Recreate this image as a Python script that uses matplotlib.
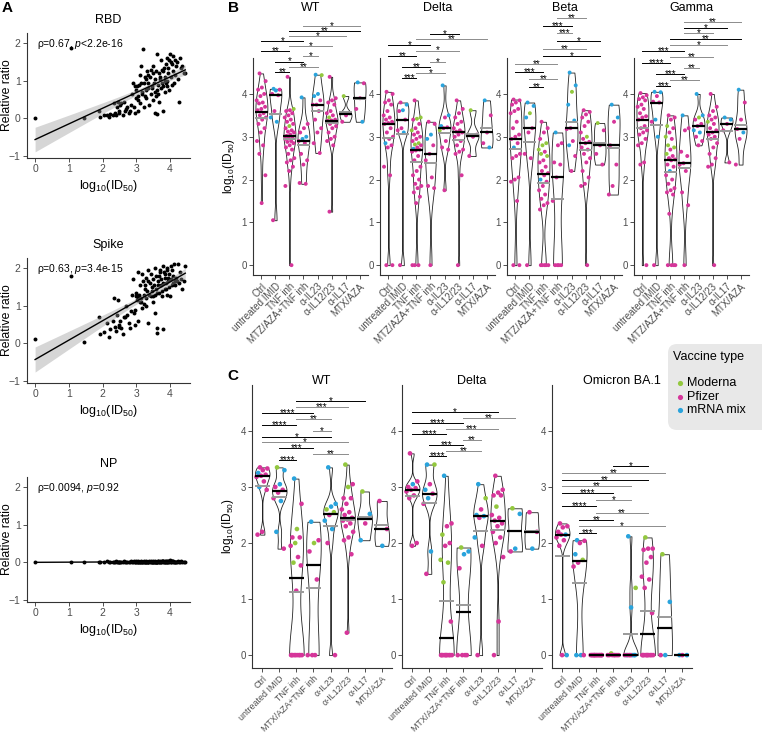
import matplotlib.pyplot as plt
import numpy as np
from matplotlib.patches import FancyBboxPatch

plt.rcParams['font.family'] = ['Liberation Sans', 'DejaVu Sans']
plt.rcParams['mathtext.fontset'] = 'custom'
plt.rcParams['mathtext.rm'] = 'Liberation Sans'
plt.rcParams['mathtext.it'] = 'Liberation Sans:italic'

# ---------------- data: panel A (same subjects in all three) ----------------
id50 = [0.00, 1.05, 1.45, 1.88, 1.92, 2.05, 2.12, 2.18, 2.22, 2.30,
        2.35, 2.38, 2.40, 2.42, 2.45, 2.48, 2.52, 2.55, 2.60, 2.62,
        2.68, 2.72, 2.78, 2.82, 2.85, 2.88, 2.90, 2.93, 2.95, 2.98,
        3.00, 3.02, 3.04, 3.06, 3.08, 3.10, 3.12, 3.14, 3.16, 3.18,
        3.20, 3.22, 3.24, 3.26, 3.28, 3.30, 3.32, 3.34, 3.36, 3.38,
        3.40, 3.42, 3.44, 3.46, 3.48, 3.50, 3.52, 3.54, 3.56, 3.58,
        3.60, 3.62, 3.64, 3.66, 3.68, 3.70, 3.72, 3.74, 3.76, 3.78,
        3.80, 3.82, 3.84, 3.86, 3.88, 3.90, 3.92, 3.94, 3.96, 3.98,
        4.00, 4.02, 4.04, 4.06, 4.08, 4.10, 4.12, 4.15, 4.18, 4.22,
        4.25, 4.28, 4.32, 4.36, 4.40, 4.45, 3.05, 3.55, 3.75, 2.95,
        3.15, 3.35, 3.65, 3.85, 4.05, 3.45, 3.25, 3.95, 2.65, 3.70,
        2.50, 3.58, 3.62, 3.88, 4.14, 3.28, 3.48, 3.78, 3.92, 4.20]
rbd_ratio = [0.00, 1.88, 0.02, 0.20, 0.05, 0.08, 0.10, 0.05, 0.12, 0.08,
             0.42, 0.15, 0.10, 0.30, 0.45, 0.20, 0.35, 0.40, 0.08, 0.45,
             0.25, 0.30, 0.15, 0.20, 0.35, 0.65, 0.95, 0.30, 0.15, 0.55,
             0.75, 0.85, 0.20, 0.60, 0.90, 1.15, 0.40, 1.40, 0.65, 0.70,
             1.85, 0.95, 0.30, 1.10, 0.75, 0.55, 1.25, 0.80, 0.95, 0.35,
             1.10, 0.65, 1.30, 0.85, 0.50, 1.40, 0.95, 0.70, 1.05, 0.60,
             1.70, 0.12, 0.90, 1.20, 0.45, 1.05, 0.80, 1.55, 0.95, 1.25,
             0.20, 1.35, 1.10, 0.70, 1.45, 0.85, 1.00, 1.20, 0.75, 1.55,
             1.70, 1.10, 1.50, 0.90, 1.65, 1.25, 0.95, 1.55, 1.40, 1.05,
             0.45, 1.60, 1.35, 1.40, 1.20, 1.20, 0.50, 0.15, 1.30, 0.85,
             0.95, 1.15, 0.65, 1.00, 1.45, 0.80, 0.60, 1.35, 0.20, 1.10,
             0.15, 1.25, 0.75, 0.95, 1.15, 1.05, 1.20, 0.85, 1.60, 1.50]
spike_ratio = [0.12, 1.78, 0.05, 0.70, 0.25, 0.30, 0.55, 0.18, 0.38, 0.60,
               1.20, 0.45, 0.32, 0.75, 1.15, 0.50, 0.60, 0.40, 0.25, 0.70,
               1.00, 0.75, 0.55, 0.40, 0.85, 1.30, 1.70, 0.80, 0.50, 1.25,
               1.35, 1.15, 0.60, 1.90, 1.30, 1.55, 1.10, 1.20, 0.95, 1.85,
               1.65, 1.30, 1.05, 1.45, 1.75, 1.20, 1.40, 1.95, 0.55, 1.30,
               1.60, 1.25, 1.85, 1.50, 1.10, 1.70, 1.55, 1.30, 2.00, 1.45,
               0.28, 0.40, 1.65, 1.80, 1.35, 1.95, 1.55, 1.70, 1.25, 2.05,
               0.38, 1.90, 1.45, 1.75, 1.60, 2.00, 1.30, 1.65, 1.50, 1.85,
               1.25, 1.70, 2.05, 1.55, 1.80, 1.60, 2.10, 1.65, 1.75, 2.10,
               1.60, 1.90, 1.70, 1.45, 1.65, 2.05, 1.20, 0.80, 1.40, 0.90,
               1.10, 1.65, 1.55, 1.85, 1.95, 1.40, 1.55, 1.75, 0.70, 1.90,
               0.45, 1.80, 1.35, 1.45, 1.55, 1.00, 1.25, 1.60, 1.95, 1.65]
np_ratio = [0.01, 0.00, 0.01, 0.00, 0.01, 0.02, 0.03, 0.01, 0.02, 0.00,
            0.02, 0.01, 0.03, 0.00, 0.02, 0.01, 0.00, 0.02, 0.01, 0.03,
            0.01, 0.02, 0.00, 0.01, 0.03, 0.02, 0.01, 0.04, 0.00, 0.02,
            0.03, 0.01, 0.02, 0.05, 0.01, 0.00, 0.02, 0.03, 0.01, 0.02,
            0.00, 0.02, 0.04, 0.01, 0.03, 0.02, 0.00, 0.01, 0.02, 0.03,
            0.01, 0.03, 0.02, 0.00, 0.04, 0.01, 0.02, 0.03, 0.01, 0.00,
            0.02, 0.01, 0.03, 0.02, 0.00, 0.04, 0.01, 0.02, 0.03, 0.01,
            0.03, 0.02, 0.01, 0.04, 0.02, 0.00, 0.03, 0.01, 0.02, 0.05,
            0.06, 0.02, 0.01, 0.03, 0.02, 0.04, 0.01, 0.02, 0.00, 0.03,
            0.01, 0.02, 0.03, 0.01, 0.02, 0.00, 0.02, 0.01, 0.03, 0.02,
            0.02, 0.01, 0.03, 0.02, 0.04, 0.01, 0.02, 0.03, 0.01, 0.02,
            0.00, 0.02, 0.01, 0.03, 0.02, 0.01, 0.02, 0.03, 0.02, 0.01]
a_titles = ['RBD', 'Spike', 'NP']
a_stats = ['ρ=0.67, $p$<2.2e-16', 'ρ=0.63, $p$=3.4e-15', 'ρ=0.0094, $p$=0.92']

# ---------------- data: panels B and C (log10 ID50 per group) ----------------
# vaccine codes: G = Moderna, P = Pfizer, B = mRNA mix (missing tail = Pfizer)
labels_b = ['Ctrl', 'untreated IMID', 'TNF inh', 'MTZ/AZA+TNF inh',
            'α-IL23', 'α-IL12/23', 'α-IL17', 'MTX/AZA']
labels_c = ['Ctrl', 'untreated IMID', 'TNF inh', 'MTX/AZA+TNF inh',
            'α-IL23', 'α-IL12/23', 'α-IL17', 'MTX/AZA']

b_wt = [[4.48, 4.30, 4.15, 4.10, 4.00, 3.95, 3.85, 3.80, 3.78, 3.70, 3.65, 3.62,
         3.55, 3.50, 3.45, 3.40, 3.30, 3.20, 3.10, 2.90, 2.80, 2.60, 2.10, 1.45],
        [4.12, 4.10, 4.08, 4.00, 3.97, 3.60, 3.45, 3.35, 1.05],
        [4.40, 3.65, 3.62, 3.60, 3.55, 3.50, 3.45, 3.40, 3.35, 3.30, 3.25, 3.20,
         3.15, 3.12, 3.10, 3.05, 3.02, 3.00, 2.98, 2.95, 2.90, 2.88, 2.85, 2.80,
         2.75, 2.70, 2.60, 2.50, 2.45, 2.40, 2.30, 2.20, 1.85, 0.00],
        [3.92, 3.30, 3.20, 3.10, 3.00, 2.95, 2.90, 2.85, 2.60, 2.45, 2.35, 1.92, 1.90],
        [4.45, 4.44, 4.00, 3.95, 3.85, 3.75, 3.75, 3.60, 3.40, 3.20, 3.10, 2.85, 2.62],
        [4.40, 3.90, 3.85, 3.80, 3.75, 3.60, 3.55, 3.50, 3.45, 3.40, 3.38, 3.37,
         3.35, 3.30, 3.25, 3.20, 3.10, 3.00, 2.95, 2.90, 2.80, 1.25],
        [3.95, 3.55, 3.50, 3.35],
        [4.27, 4.25, 3.90, 3.65, 3.35]]
b_wt_vax = ['', 'BPBPPPBBP', 'PGPPPPPPPPG', 'BPPPBBP', 'BGBB', 'PPPPPPPPG', 'G', 'BPPPB']

b_delta = [[4.05, 4.00, 3.85, 3.80, 3.75, 3.60, 3.50, 3.45, 3.40, 3.35, 3.32, 3.30,
            3.20, 3.10, 3.00, 2.95, 2.85, 2.80, 2.75, 2.30, 2.10, 0.00, 0.00],
           [3.80, 3.75, 3.62, 3.60, 3.40, 3.20, 3.15, 3.10, 0.00],
           [3.85, 3.45, 3.42, 3.40, 3.30, 3.20, 3.15, 3.10, 3.05, 3.00, 2.95, 2.90,
            2.85, 2.82, 2.80, 2.75, 2.72, 2.70, 2.68, 2.65, 2.55, 2.45, 2.30, 2.20,
            2.10, 2.00, 1.90, 1.85, 1.80, 1.70, 1.60, 1.45, 0.00, 0.00, 0.00],
           [3.35, 3.30, 3.05, 2.95, 2.80, 2.60, 2.45, 2.05, 1.85, 1.80, 0.00],
           [4.20, 3.50, 3.45, 3.25, 3.22, 3.20, 3.15, 2.90, 2.75, 2.70, 1.75],
           [3.85, 3.65, 3.55, 3.45, 3.35, 3.30, 3.20, 3.15, 3.12, 3.10, 3.05, 3.00,
            2.90, 2.80, 2.70, 2.65, 2.60, 2.10, 0.00],
           [3.62, 3.05, 3.00, 2.55],
           [3.85, 3.50, 3.10, 2.85, 2.75]]
b_delta_vax = ['PPPPPPPPPPPPPPPPB', 'PBBPPPPBP', 'PGGPPPGPPPPPGGPPB', 'PPBB',
               'BBPBPPG', '', 'G', 'BPPPB']

b_beta = [[3.87, 3.85, 3.80, 3.75, 3.65, 3.60, 3.55, 3.35, 3.20, 3.05, 3.00, 2.95,
           2.85, 2.75, 2.60, 2.55, 2.50, 2.05, 2.00, 1.95, 1.50, 0.00, 0.00],
          [3.80, 3.72, 3.55, 3.45, 3.20, 3.10, 2.60, 2.50, 0.00],
          [3.35, 3.20, 3.10, 2.95, 2.85, 2.80, 2.70, 2.65, 2.60, 2.55, 2.45, 2.40,
           2.30, 2.20, 2.15, 2.10, 2.00, 1.95, 1.85, 1.75, 1.65, 1.55, 1.45, 1.40,
           1.30, 0.00, 0.00, 0.00, 0.00, 0.00],
          [3.10, 2.85, 2.80, 2.40, 2.35, 2.05, 1.50, 0.00, 0.00, 0.00, 0.00],
          [4.50, 4.20, 4.05, 3.75, 3.38, 3.20, 3.18, 2.90, 2.80, 2.55, 2.20],
          [3.62, 3.58, 3.52, 3.45, 3.35, 3.25, 3.10, 3.00, 2.95, 2.88, 2.85, 2.75,
           2.70, 2.60, 2.50, 2.40, 2.20, 2.05, 1.90, 1.85, 0.00],
          [3.32, 3.15, 2.80, 2.60, 2.35],
          [3.75, 3.45, 3.35, 2.80, 2.35, 1.85, 1.65]]
b_beta_vax = ['PPPPPPPPPPPPPB', 'BBGB', 'PPPPGGGPGGPPPPPPB', 'B',
              'BBGBBPPPB', 'PPPPPPPG', 'G', 'BB']

b_gamma = [[4.02, 3.97, 3.92, 3.88, 3.85, 3.75, 3.70, 3.65, 3.55, 3.48, 3.45, 3.40,
            3.25, 3.20, 3.15, 3.10, 3.05, 2.95, 2.85, 2.80, 2.40, 2.35, 0.00],
           [4.05, 4.04, 3.95, 3.82, 3.80, 3.40, 3.35, 3.00, 0.00],
           [3.50, 3.45, 3.40, 3.25, 3.20, 3.10, 3.00, 2.95, 2.80, 2.75, 2.70, 2.60,
            2.55, 2.50, 2.47, 2.45, 2.35, 2.30, 2.20, 2.10, 2.00, 1.90, 1.80, 1.75,
            1.70, 1.65, 1.20, 0.00, 0.00, 0.00, 0.00],
           [3.50, 3.20, 3.15, 2.65, 2.55, 2.38, 2.35, 2.20, 1.70, 1.40, 0.00],
           [4.00, 3.50, 3.45, 3.40, 3.30, 3.25, 3.15, 3.10, 3.00, 2.90, 2.80],
           [4.00, 3.70, 3.60, 3.50, 3.45, 3.40, 3.35, 3.30, 3.20, 3.15, 3.10, 3.05,
            3.00, 2.95, 2.85, 2.75, 2.60, 2.50, 2.35, 2.30, 0.00],
           [3.45, 3.40, 3.30, 3.15, 2.40],
           [4.10, 3.80, 3.40, 3.18, 3.10, 2.95, 2.35]]
b_gamma_vax = ['', 'BBPPPBPB', 'PPPGPPGPGGPGPPPPPPB', 'B', 'BBGPPPBB', 'PPPPPPG', 'BB', 'BPPPB']

c_wt = [[3.35, 3.33, 3.30, 3.25, 3.22, 3.20, 3.18, 3.10, 3.00, 2.95, 2.20, 2.15],
        [3.35, 3.30, 3.05, 3.00, 2.95, 2.90, 2.80, 2.75, 2.20, 1.90],
        [3.15, 2.70, 2.25, 2.10, 2.10, 2.00, 1.95, 1.75, 1.65, 1.60, 1.15,
         0.00, 0.00, 0.00, 0.00, 0.00, 0.00, 0.00, 0.00, 0.00],
        [2.38, 2.05, 2.00, 1.85, 1.35, 0.00, 0.00, 0.00],
        [3.35, 2.70, 2.65, 2.60, 2.55, 2.50, 2.40, 2.25, 2.00, 0.00],
        [3.40, 3.05, 3.00, 2.80, 2.80, 2.70, 2.60, 2.55, 2.50, 2.45, 2.42, 2.40,
         2.35, 2.30, 2.20, 2.10, 2.05, 1.80, 0.40],
        [2.92, 2.52, 2.35, 2.05],
        [2.75, 2.25, 1.95]]
c_wt_vax = ['PPPBPPPPB', 'GBBPPPPBBP', 'BPGPPGPPG', 'BPG', 'BBBGGPBB', 'GPG', 'GBPB', 'PPB']

c_delta = [[3.60, 3.10, 3.05, 3.00, 2.98, 2.95, 2.92, 2.85, 2.80, 2.00, 1.95],
           [3.40, 3.40, 3.05, 2.95, 2.88, 2.80, 2.70, 1.85, 1.45],
           [3.20, 2.35, 2.30, 2.15, 2.00, 1.95, 1.70, 1.65, 1.30, 0.60,
            0.00, 0.00, 0.00, 0.00, 0.00, 0.00, 0.00, 0.00, 0.00, 0.00],
           [1.92, 1.85, 1.80, 1.55, 0.00, 0.00, 0.00, 0.00],
           [3.05, 2.80, 2.60, 2.50, 2.48, 2.45, 2.10, 1.95, 0.00],
           [3.20, 2.95, 2.90, 2.85, 2.85, 2.65, 2.50, 2.45, 2.40, 2.35, 2.30, 2.20,
            2.10, 2.00, 1.75, 0.60, 0.00],
           [2.62, 2.52, 1.90, 1.85],
           [2.55, 2.20, 1.90]]
c_delta_vax = ['PPB', 'BGPBPBPB', 'BPPGPPGGG', 'GBB', 'BGPBBPB', 'PPPPPG', 'GBB', 'PPB']

c_omicron = [[2.35, 2.30, 2.28, 2.20, 2.15, 2.15, 2.10, 2.05, 1.95, 0.00, 0.00],
             [2.05, 2.04, 2.00, 1.80, 1.70, 1.65, 1.58, 0.00, 0.00, 0.00],
             [0.00, 0.00, 0.00, 0.00, 0.00, 0.00, 0.00, 0.00, 0.00, 0.00,
              0.00, 0.00, 0.00, 0.00, 0.00],
             [0.03, 0.00, 0.00, 0.00, 0.00, 0.00, 0.00, 0.00],
             [2.12, 1.20, 0.85, 0.00, 0.00, 0.00, 0.00, 0.00, 0.00, 0.00, 0.00],
             [2.10, 1.90, 1.90, 1.88, 1.75, 1.65, 1.40, 1.35, 1.20, 0.75,
              0.00, 0.00, 0.00, 0.00, 0.00, 0.00, 0.00, 0.00, 0.00, 0.00],
             [1.80, 0.95, 0.00, 0.00],
             [0.00, 0.00, 0.00]]
c_omicron_vax = ['PPPPBPPPPB', 'BPPBGPPBB', '', 'G', 'BGBBBPPBPB', 'G', 'GBB', 'BB']

# significance comparisons (group i, group j, stars), listed bottom to top
b_wt_sig = [(1, 2, '**'), (2, 4, '**'), (1, 3, '*'), (3, 4, '*'), (0, 2, '**'),
            (2, 5, '*'), (0, 3, '*'), (2, 6, '*'), (2, 7, '**'), (3, 7, '*')]
b_delta_sig = [(1, 2, '***'), (2, 4, '*'), (1, 3, '**'), (3, 4, '*'), (0, 2, '**'),
               (2, 5, '*'), (0, 3, '*'), (2, 7, '**'), (3, 5, '*')]
b_beta_sig = [(1, 2, '**'), (1, 3, '**'), (0, 2, '***'), (0, 3, '**'), (2, 6, '*'),
              (2, 5, '**'), (3, 6, '*'), (3, 4, '***'), (2, 4, '***'), (3, 5, '**')]
b_gamma_sig = [(1, 2, '***'), (2, 4, '**'), (1, 3, '***'), (3, 4, '**'), (0, 2, '****'),
               (2, 5, '**'), (0, 3, '***'), (2, 6, '*'), (2, 7, '**'), (3, 5, '*'),
               (3, 6, '*'), (3, 7, '**')]
c_wt_sig = [(1, 2, '****'), (3, 5, '**'), (1, 3, '***'), (0, 5, '*'), (0, 4, '*'),
            (3, 4, '*'), (0, 2, '****'), (2, 4, '**'), (0, 3, '****'), (2, 5, '***'),
            (2, 6, '*')]
c_delta_sig = [(1, 2, '****'), (2, 4, '**'), (1, 3, '***'), (3, 4, '**'), (0, 2, '****'),
               (2, 5, '***'), (0, 3, '****'), (3, 6, '**'), (0, 5, '*')]
c_omicron_sig = [(1, 2, '***'), (1, 6, '*'), (1, 3, '**'), (2, 5, '**'), (0, 2, '****'),
                 (2, 4, '*'), (0, 3, '****'), (0, 4, '**'), (0, 5, '**'), (0, 6, '**'),
                 (3, 5, '*')]

vax_names = ['Moderna', 'Pfizer', 'mRNA mix']
vax_colors = {'G': '#93c83e', 'P': '#d6359a', 'B': '#29a3dc'}

# ---------------- drawing ----------------
W, H = 762, 733
fig = plt.figure(figsize=(W / 100, H / 100), dpi=100)
TICK = '#4d4d4d'


def px_box(left, top, w, h):
    return [left / W, 1 - (top + h) / H, w / W, h / H]


def style_axes(ax):
    for s in ['top', 'right']:
        ax.spines[s].set_visible(False)
    for s in ['left', 'bottom']:
        ax.spines[s].set_color('#333333')
        ax.spines[s].set_linewidth(0.8)
    ax.tick_params(length=3, width=0.6, color='#333333', labelcolor=TICK, labelsize=7, pad=1.5)


# Panel A
a_tops = [33, 258, 477]
for ax_top, yv, title, stat in zip(a_tops, [rbd_ratio, spike_ratio, np_ratio], a_titles, a_stats):
    ax = fig.add_axes(px_box(27, ax_top, 163, 125))
    x = np.array(id50)
    y = np.array(yv)
    slope, icpt = np.polyfit(x, y, 1)
    xs = np.linspace(x.min(), x.max(), 100)
    fit = icpt + slope * xs
    n = len(x)
    s = np.sqrt(((y - (icpt + slope * x)) ** 2).sum() / (n - 2))
    se = s * np.sqrt(1 / n + (xs - x.mean()) ** 2 / ((x - x.mean()) ** 2).sum())
    ax.scatter(x, y, s=8, color='black', lw=0, zorder=2)
    ax.fill_between(xs, fit - 1.98 * se, fit + 1.98 * se, color='#999999', alpha=0.4, lw=0, zorder=3)
    ax.plot(xs, fit, color='black', lw=1, zorder=4)
    ax.set_xlim(-0.24, 4.59)
    ax.set_ylim(-1.05, 2.27)
    ax.set_xticks(range(5))
    ax.set_yticks([-1, 0, 1, 2])
    style_axes(ax)
    ax.tick_params(labelsize=7.5)
    ax.set_ylabel('Relative ratio', fontsize=8.8)
    # y label anchor is the right edge of the rotated text
    ax.yaxis.set_label_coords(-13.5 / 163, 0.5)
    ax.set_xlabel('log$_{10}$(ID$_{50}$)', fontsize=9, labelpad=3)
    ax.text(0.5, 1 + 13 / 125, title, transform=ax.transAxes, ha='center', va='center', fontsize=9)
    ax.text(0.06, 0.97, stat, transform=ax.transAxes, ha='left', va='top', fontsize=7.5)


def nrd0(kde):
    d = np.ravel(kde.dataset)
    sd = d.std(ddof=1)
    iqr = np.subtract(*np.percentile(d, [75, 25]))
    lo = min(sd, iqr / 1.34) if iqr > 0 else sd
    return 0.9 * lo * len(d) ** -0.2 / sd


def violin_panel(ax, groups, vax, sig, base, step, labels, pt_size, xlab_size):
    for i, (vals, codes) in enumerate(zip(groups, vax)):
        v = np.array(vals)
        codes = codes.ljust(len(v), 'P')
        if np.ptp(v) > 0.1:
            parts = ax.violinplot([v], positions=[i], widths=0.85, showextrema=False, bw_method=nrd0)
            for body in parts['bodies']:
                body.set_facecolor('white')
                body.set_edgecolor('#222222')
                body.set_linewidth(0.6)
                body.set_alpha(1)
                body.set_zorder(1)
        k = np.arange(len(v))
        xj = i + ((k * 0.618034 + 0.31) % 1 - 0.5) * 0.7
        ax.scatter(xj, v, s=pt_size, c=[vax_colors[c] for c in codes[:len(v)]], lw=0, zorder=2)
        ax.plot([i - 0.45, i + 0.45], [v.mean()] * 2, color='#9a9a9a', lw=1.4, zorder=3,
                solid_capstyle='butt')
        ax.plot([i - 0.45, i + 0.45], [np.median(v)] * 2, color='black', lw=1.6, zorder=4,
                solid_capstyle='butt')
    for k, (i, j, stars) in enumerate(sig):
        y = base + k * step
        col = 'black' if k % 2 == 0 else '#8c8c8c'
        ax.plot([i, j], [y, y], color=col, lw=0.7, clip_on=False, zorder=5)
        ax.annotate(stars, xy=((i + j) / 2, y), xytext=(0, -2.2), textcoords='offset points',
                    ha='center', va='baseline', fontsize=7, annotation_clip=False)
    ax.set_xlim(-0.6, 7.6)
    ax.set_xticks(range(8))
    ax.set_xticklabels(labels, rotation=45, ha='right', rotation_mode='anchor')
    ax.set_yticks(range(5))
    style_axes(ax)
    ax.tick_params(axis='x', labelsize=xlab_size)


# Panel B
b_sets = [('WT', b_wt, b_wt_vax, b_wt_sig, 4.52, 0.119),
          ('Delta', b_delta, b_delta_vax, b_delta_sig, 4.37, 0.129),
          ('Beta', b_beta, b_beta_vax, b_beta_sig, 4.16, 0.179),
          ('Gamma', b_gamma, b_gamma_vax, b_gamma_sig, 4.19, 0.136)]
for n_ax, (title, groups, vax, sig, base, step) in enumerate(b_sets):
    ax = fig.add_axes(px_box(253 + 127 * n_ax, 58, 115, 217))
    ax.set_ylim(-0.23, 4.84)
    violin_panel(ax, groups, vax, sig, base, step, labels_b, 8, 7)
    ax.text(0.5, 1 + 50 / 217, title, transform=ax.transAxes, ha='center', va='center', fontsize=9)
    if n_ax == 0:
        ax.set_ylabel('log$_{10}$(ID$_{50}$)', fontsize=8.5, labelpad=3)

# Panel C
c_sets = [('WT', c_wt, c_wt_vax, c_wt_sig, 3.48, 0.105),
          ('Delta', c_delta, c_delta_vax, c_delta_sig, 3.55, 0.0975),
          ('Omicron BA.1', c_omicron, c_omicron_vax, c_omicron_sig, 2.18, 0.119)]
for n_ax, (title, groups, vax, sig, base, step) in enumerate(c_sets):
    ax = fig.add_axes(px_box(252 + 150 * n_ax, 385, 140, 283))
    ax.set_ylim(-0.23, 4.82)
    violin_panel(ax, groups, vax, sig, base, step, labels_c, 11, 6.4)
    ax.text(0.5, 1 + 4 / 283, title, transform=ax.transAxes, ha='center', va='center', fontsize=9)
    if n_ax == 0:
        ax.set_ylabel('log$_{10}$(ID$_{50}$)', fontsize=8.5, labelpad=3)

# Legend
lax = fig.add_axes(px_box(667, 342, 95, 90))
lax.set_xlim(0, 95)
lax.set_ylim(90, 0)
lax.axis('off')
lax.add_patch(FancyBboxPatch((1, 2), 110, 86, boxstyle='round,pad=0,rounding_size=9',
                             facecolor='#e8e8e8', edgecolor='none', clip_on=False))
lax.text(6, 15, 'Vaccine type', fontsize=9, ha='left', va='center')
for k, (name, code) in enumerate(zip(vax_names, ['G', 'P', 'B'])):
    yk = 41 + 13.5 * k
    lax.scatter([13], [yk], s=14, color=vax_colors[code], lw=0)
    lax.text(20, yk, name, fontsize=9, ha='left', va='center')

# Panel letters
fig.text(2 / W, 1 - 8 / H, 'A', fontsize=11, fontweight='bold', va='center')
fig.text(228 / W, 1 - 8 / H, 'B', fontsize=11, fontweight='bold', va='center')
fig.text(227 / W, 1 - 376 / H, 'C', fontsize=11, fontweight='bold', va='center')

fig.savefig('out.png', dpi=100, facecolor='white')
